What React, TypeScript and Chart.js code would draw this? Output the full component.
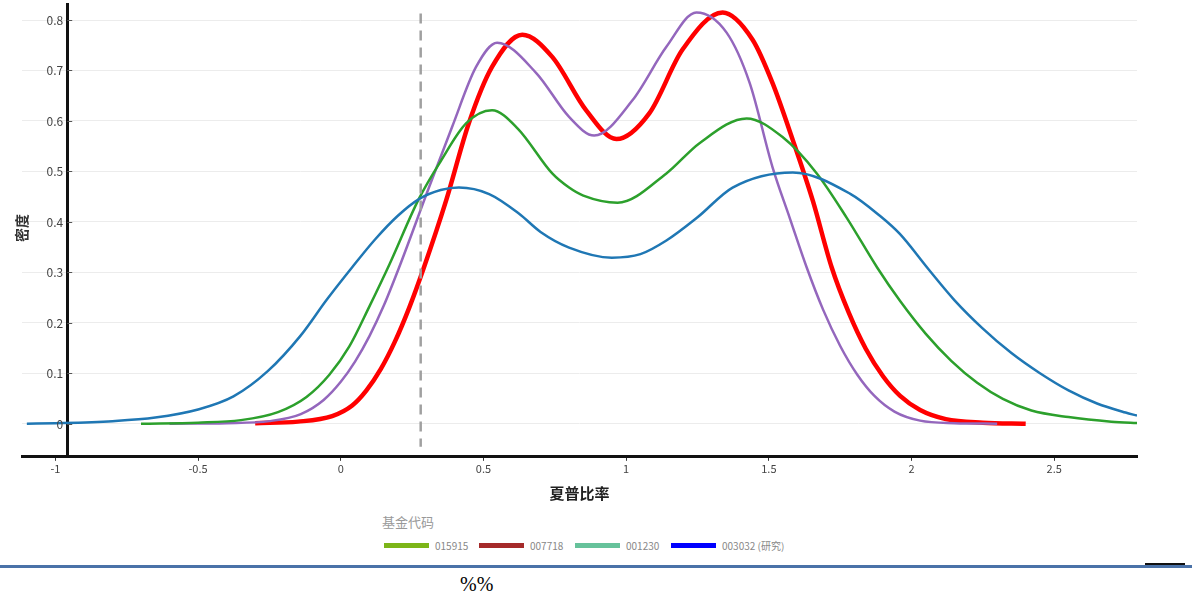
import React, { useEffect, useRef } from "react";
import { Chart, registerables } from "chart.js";

Chart.register(...registerables);

// ---- data ----
const seriesNames = ["015915", "007718", "001230", "003032 (研究)"];

const blueX = [-1.1, -1.0, -0.8, -0.65, -0.5, -0.376, -0.256, -0.14, -0.05, 0.04, 0.12, 0.2, 0.274, 0.35, 0.414, 0.52, 0.625, 0.7, 0.8, 0.95, 1.05, 1.141, 1.25, 1.373, 1.584, 1.784, 1.889, 1.959, 2.058, 2.15, 2.247, 2.35, 2.45, 2.55, 2.65, 2.75, 2.79];
const blueY = [0, 0.001, 0.005, 0.012, 0.028, 0.054, 0.104, 0.175, 0.245, 0.31, 0.365, 0.412, 0.445, 0.463, 0.468, 0.455, 0.416, 0.38, 0.349, 0.329, 0.336, 0.363, 0.409, 0.468, 0.498, 0.456, 0.412, 0.376, 0.307, 0.245, 0.19, 0.14, 0.1, 0.066, 0.04, 0.022, 0.016];

const greenX = [-0.7, -0.5, -0.35, -0.22, -0.12, -0.04, 0.03, 0.1, 0.17, 0.274, 0.35, 0.439, 0.53, 0.62, 0.741, 0.8, 0.85, 0.97, 1.141, 1.257, 1.422, 1.548, 1.668, 1.773, 1.88, 1.96, 2.05, 2.14, 2.23, 2.32, 2.42, 2.55, 2.7, 2.8];
const greenY = [0, 0.002, 0.007, 0.023, 0.053, 0.097, 0.153, 0.232, 0.315, 0.446, 0.52, 0.595, 0.621, 0.585, 0.496, 0.468, 0.452, 0.438, 0.496, 0.556, 0.605, 0.568, 0.496, 0.408, 0.309, 0.243, 0.178, 0.124, 0.081, 0.049, 0.026, 0.013, 0.004, 0.001];

const purpleX = [-0.6, -0.4, -0.25, -0.14, -0.06, 0.0, 0.05, 0.1, 0.15, 0.204, 0.309, 0.39, 0.474, 0.548, 0.685, 0.8, 0.888, 1.022, 1.141, 1.246, 1.352, 1.433, 1.513, 1.573, 1.633, 1.69, 1.75, 1.81, 1.87, 1.94, 2.03, 2.15, 2.3];
const purpleY = [0, 0.001, 0.005, 0.019, 0.047, 0.083, 0.123, 0.173, 0.233, 0.309, 0.468, 0.588, 0.707, 0.755, 0.695, 0.608, 0.571, 0.641, 0.747, 0.815, 0.775, 0.675, 0.508, 0.408, 0.309, 0.226, 0.154, 0.097, 0.055, 0.024, 0.006, 0.001, 0];

const redX = [-0.3, -0.15, -0.03, 0.04, 0.09, 0.14, 0.19, 0.24, 0.291, 0.369, 0.449, 0.53, 0.636, 0.741, 0.86, 0.966, 1.081, 1.197, 1.338, 1.443, 1.513, 1.584, 1.654, 1.72, 1.78, 1.84, 1.9, 1.96, 2.03, 2.12, 2.25, 2.4];
const redY = [0.001, 0.004, 0.015, 0.036, 0.066, 0.108, 0.163, 0.23, 0.309, 0.442, 0.596, 0.707, 0.771, 0.727, 0.621, 0.564, 0.615, 0.741, 0.815, 0.761, 0.675, 0.562, 0.442, 0.31, 0.22, 0.148, 0.094, 0.055, 0.027, 0.009, 0.002, 0];

const markerX = [0.28, 0.28];
const markerY = [0.813, -0.046];

const xTicks = [-1, -0.5, 0, 0.5, 1, 1.5, 2, 2.5];
const yTicks = [0, 0.1, 0.2, 0.3, 0.4, 0.5, 0.6, 0.7, 0.8];

const lineColors = ["#1f77b4", "#2ca02c", "#9467bd", "#ff0000"];
const legendColors = ["#7cb518", "#a52a2a", "#66c29b", "#0000ff"];

const toPoints = (xs: number[], ys: number[]) => xs.map((x, i) => ({ x, y: ys[i] }));

const FONT = "'Noto Sans CJK SC', 'Noto Sans', sans-serif";
const Y_AXIS_AT = -0.9586;

export default function App() {
  const ref = useRef<HTMLCanvasElement | null>(null);

  useEffect(() => {
    if (!ref.current) return;
    const yAxisDecor = {
      id: "yAxisDecor",
      afterDraw(chart: any) {
        const ctx = chart.ctx;
        const xs = chart.scales.x;
        const ys = chart.scales.y;
        const ax = xs.getPixelForValue(Y_AXIS_AT);
        ctx.save();
        ctx.font = `12px ${FONT}`;
        ctx.fillStyle = "#444";
        ctx.strokeStyle = "#555";
        ctx.lineWidth = 1;
        ctx.textAlign = "right";
        ctx.textBaseline = "middle";
        yTicks.forEach((v) => {
          const py = Math.round(ys.getPixelForValue(v)) + 0.5;
          ctx.fillText(String(v), ax - 4, py);
          ctx.beginPath();
          ctx.moveTo(ax, py);
          ctx.lineTo(ax + 5, py);
          ctx.stroke();
        });
        ctx.translate(22, 228);
        ctx.rotate(-Math.PI / 2);
        ctx.font = `bold 14px ${FONT}`;
        ctx.fillStyle = "#333";
        ctx.textAlign = "center";
        ctx.fillText("密度", 0, 0);
        ctx.restore();
      },
    };
    const chart = new Chart(ref.current, {
      type: "line",
      data: {
        datasets: [
          { label: "marker", data: toPoints(markerX, markerY), borderColor: "#a0a0a0", borderWidth: 2.5, borderDash: [10, 7], pointRadius: 0, tension: 0 },
          { label: seriesNames[0], data: toPoints(blueX, blueY), borderColor: lineColors[0], borderWidth: 2.5, pointRadius: 0, cubicInterpolationMode: "monotone" },
          { label: seriesNames[1], data: toPoints(greenX, greenY), borderColor: lineColors[1], borderWidth: 2.5, pointRadius: 0, cubicInterpolationMode: "monotone" },
          { label: seriesNames[2], data: toPoints(purpleX, purpleY), borderColor: lineColors[2], borderWidth: 2.5, pointRadius: 0, cubicInterpolationMode: "monotone" },
          { label: seriesNames[3], data: toPoints(redX, redY), borderColor: lineColors[3], borderWidth: 4.5, pointRadius: 0, cubicInterpolationMode: "monotone" },
        ],
      },
      options: {
        responsive: false,
        animation: false,
        devicePixelRatio: 1,
        layout: { padding: { left: 22, right: 55, top: 4, bottom: 4 } },
        plugins: { legend: { display: false }, tooltip: { enabled: false } },
        scales: {
          x: {
            type: "linear",
            min: -1.117,
            max: 2.79,
            afterBuildTicks: (s: any) => { s.ticks = xTicks.map((v) => ({ value: v })); },
            ticks: { font: { size: 11, family: FONT }, color: "#444", padding: 1, maxRotation: 0, autoSkip: false, callback: (v: any) => String(Number(v)) },
            grid: { drawOnChartArea: false, tickLength: 4, tickColor: "#333" },
            border: { color: "#111", width: 3 },
            title: { display: true, text: "夏普比率", font: { size: 15, weight: "bold", family: FONT }, color: "#222", padding: { top: 8, bottom: 4 } },
          },
          y: {
            type: "linear",
            min: -0.0657,
            max: 0.8318,
            position: { x: Y_AXIS_AT } as any,
            afterBuildTicks: (s: any) => { s.ticks = yTicks.map((v) => ({ value: v })); },
            ticks: { display: false },
            grid: { color: "#ececec", lineWidth: 1, drawTicks: false },
            border: { color: "#111", width: 3 },
          },
        },
      },
      plugins: [yAxisDecor],
    } as any);
    return () => chart.destroy();
  }, []);

  return (
    <div style={{ position: "absolute", left: 0, top: 0, width: 1192, height: 603, background: "#fff", overflow: "hidden" }}>
      <canvas ref={ref} width={1192} height={510} style={{ position: "absolute", left: 0, top: 0, width: 1192, height: 510 }} />
      <div style={{ position: "absolute", left: 382, top: 513, fontFamily: FONT, fontSize: 13, color: "#999", lineHeight: "18px" }}>基金代码</div>
      {seriesNames.map((name, i) => {
        const lefts = [384, 479, 575, 671];
        return (
          <div key={name} style={{ position: "absolute", left: lefts[i], top: 536, height: 18, display: "flex", alignItems: "center", fontFamily: FONT, fontSize: 10, color: "#888" }}>
            <span style={{ display: "inline-block", width: 45, height: 5, background: legendColors[i], marginRight: 6 }} />
            <span>{name}</span>
          </div>
        );
      })}
      <div style={{ position: "absolute", left: 0, top: 565, width: 1192, height: 3, background: "#4a72a8" }} />
      <div style={{ position: "absolute", left: 1145, top: 563, width: 40, height: 2, background: "#111" }} />
      <div style={{ position: "absolute", left: 460, top: 573, fontFamily: "serif", fontSize: 20, color: "#000" }}>%%</div>
    </div>
  );
}
